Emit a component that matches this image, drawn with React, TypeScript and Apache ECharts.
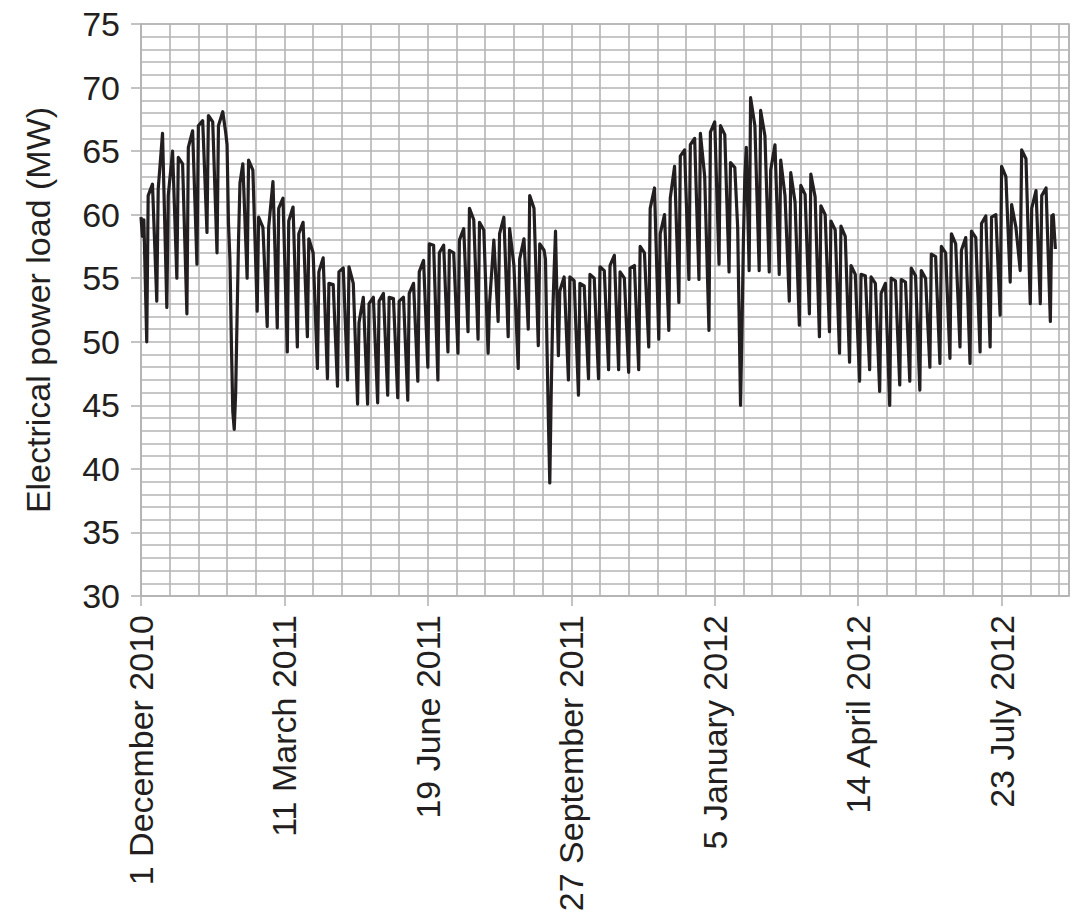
import React, { useEffect, useRef } from "react";
import * as echarts from "echarts";

// X values are days since 1 December 2010; Y values are MW.
const tickLabels = [
  "1 December 2010",
  "11 March 2011",
  "19 June 2011",
  "27 September 2011",
  "5 January 2012",
  "14 April 2012",
  "23 July 2012",
];

// first days of the record (Wed–Fri, 1–3 Dec 2010)
const startPoints: [number, number][] = [
  [0, 59.8],
  [1, 58.3],
  [2, 59.6],
];

// Sunday minimum of each week (week k: day 4 + 7k); null = inside a holiday below
const sundayLow: (number | null)[] = [
  50.0, 53.2, 52.7, 55.0, 52.2, 56.1, 58.6, 57.0, null, null,
  55.0, 52.4, 51.2, 51.1, 49.2, 49.6, 50.4, 47.9, 47.1, 46.5,
  47.0, 45.1, 45.1, 45.2, 45.8, 45.6, 45.4, 46.9, 48.0, 47.0,
  49.2, 49.1, 50.8, 50.2, 49.1, 51.6, 50.4, 47.9, 51.0, 49.7,
  null, 48.9, 47.0, 45.8, 47.1, 47.1, 47.8, 47.8, 47.6, 47.8,
  49.6, 50.2, 50.9, 53.1, 54.9, 54.9, 50.9, 56.1, 55.5, null,
  55.6, 55.6, 55.5, 55.3, 53.2, 51.3, 52.2, 50.4, 50.8, 49.1,
  48.4, 46.9, 47.8, 46.1, 45.0, 46.6, 46.9, 46.2, 48.0, 48.3,
  48.7, 49.6, 48.3, 49.2, 49.6, 52.1, 54.7, 55.6, 53.0, 53.0,
  51.6,
];

// Monday level of each week (day 5 + 7k)
const mondayHigh: (number | null)[] = [
  61.5, 62.0, 61.5, 64.5, 65.3, 67.0, 67.8, 67.0, null, null,
  64.3, 59.8, 59.0, 60.5, 59.5, 58.5, 58.1, 55.5, 54.6, 55.5,
  55.9, 51.5, 53.0, 53.2, 53.5, 53.2, 53.8, 55.5, 57.7, 57.0,
  57.2, 58.0, 60.5, 59.4, 53.0, 58.5, 58.9, 56.5, 61.5, 57.7,
  null, 54.0, 55.1, 54.6, 55.3, 55.9, 56.0, 55.5, 55.8, 57.5,
  60.5, 58.5, 61.3, 64.6, 65.5, 66.4, 66.5, 67.0, 64.1, null,
  69.2, 68.2, 63.5, 64.3, 63.3, 62.3, 63.2, 60.7, 59.5, 59.1,
  56.0, 55.3, 55.1, 53.8, 55.0, 54.9, 55.8, 55.6, 56.9, 57.5,
  58.5, 57.2, 58.7, 59.3, 59.8, 63.8, 60.8, 65.1, 60.5, 61.5,
  59.9,
];

// Thursday level of each week (day 8 + 7k)
const thursdayHigh: (number | null)[] = [
  62.4, 66.4, 65.0, 64.0, 66.6, 67.4, 67.3, 68.1, null, 64.0,
  63.5, 59.0, 62.6, 61.3, 60.6, 59.4, 57.0, 56.6, 54.5, 55.8,
  54.6, 53.5, 53.5, 53.8, 53.4, 53.5, 54.6, 56.4, 57.6, 57.6,
  57.0, 58.9, 59.6, 58.8, 58.0, 59.8, 56.0, 58.1, 60.5, 57.2,
  null, 55.1, 54.8, 54.4, 55.0, 55.6, 56.8, 55.0, 56.0, 57.0,
  62.1, 60.0, 63.8, 65.1, 66.0, 63.0, 67.3, 66.3, 63.7, null,
  67.0, 66.2, 65.5, 61.5, 61.0, 61.6, 61.4, 60.0, 58.8, 58.3,
  55.3, 55.2, 54.6, 54.6, 54.8, 54.7, 55.2, 55.0, 56.7, 57.0,
  57.7, 58.2, 58.2, 59.9, 60.0, 63.0, 59.0, 64.4, 61.9, 62.1,
];

// holiday periods read point by point
const springFestival2011: [number, number][] = [
  [59, 66.5], [60, 65.5], [61, 59.3], [62, 56.5], [63, 50.0], [64, 44.5],
  [65, 43.1], [66, 46.0], [67, 52.0], [68, 58.0], [69, 62.5],
];
const midAutumn2011: [number, number][] = [
  [282, 56.5], [283, 50.0], [284, 44.0], [285, 38.9], [286, 46.0],
  [287, 52.0], [288, 55.5], [289, 58.7], [290, 53.5],
];
const springFestival2012: [number, number][] = [
  [416, 59.0], [417, 52.0], [418, 45.0], [419, 51.0], [420, 58.0],
  [421, 63.0], [422, 65.3],
];

const endPoints: [number, number][] = [
  [636, 60.0],
  [637.5, 57.3],
];

function buildPoints(): [number, number][] {
  const holidays = [springFestival2011, midAutumn2011, springFestival2012];
  const ranges = holidays.map((h) => [h[0][0], h[h.length - 1][0]]);
  const inHoliday = (d: number) => ranges.some(([a, b]) => d >= a && d <= b);
  const pts: [number, number][] = [...startPoints];
  for (let k = 0; k < sundayLow.length; k++) {
    const base = 4 + 7 * k;
    const cands: [number, number | null | undefined][] = [
      [base, sundayLow[k]],
      [base + 1, mondayHigh[k]],
      [base + 4, thursdayHigh[k]],
    ];
    for (const [d, v] of cands) {
      if (v != null && !inHoliday(d)) pts.push([d, v]);
    }
  }
  holidays.forEach((h) => pts.push(...h));
  pts.push(...endPoints);
  pts.sort((a, b) => a[0] - b[0]);
  return pts;
}

const FONT = "'Liberation Sans', Arial, Helvetica, sans-serif";
const TEXT = "#231f20";
const GRID = "#b4b4b4";

export default function App() {
  const ref = useRef<HTMLDivElement>(null);
  useEffect(() => {
    if (!ref.current) return;
    const chart = echarts.init(ref.current, undefined, { renderer: "svg" });
    const lineGray = { color: GRID, width: 1.6 };
    chart.setOption({
      animation: false,
      backgroundColor: "#ffffff",
      grid: {
        left: 141,
        right: 10,
        top: 24,
        bottom: 327,
        show: true,
        borderColor: GRID,
        borderWidth: 1.6,
      },
      xAxis: {
        type: "value",
        min: 0,
        max: 647,
        interval: 100,
        axisLine: { show: true, onZero: false, lineStyle: lineGray },
        axisTick: { show: true, length: 10, lineStyle: lineGray },
        axisLabel: {
          rotate: 90,
          margin: 19,
          fontSize: 34,
          fontFamily: FONT,
          color: TEXT,
          showMaxLabel: false,
          formatter: (v: number) =>
            v % 100 === 0 ? tickLabels[v / 100] ?? "" : "",
        },
        splitLine: { show: true, lineStyle: lineGray },
        minorTick: { show: false, splitNumber: 5 },
        minorSplitLine: { show: true, lineStyle: lineGray },
      },
      yAxis: {
        type: "value",
        min: 30,
        max: 75,
        interval: 5,
        name: "Electrical power load (MW)",
        nameLocation: "middle",
        nameRotate: 90,
        nameGap: 86,
        nameTextStyle: { fontSize: 34, fontFamily: FONT, color: TEXT },
        axisLine: { show: true, lineStyle: lineGray },
        axisTick: { show: true, length: 10, lineStyle: lineGray },
        axisLabel: { margin: 21, fontSize: 34, fontFamily: FONT, color: TEXT },
        splitLine: { show: true, lineStyle: lineGray },
        minorTick: { show: false, splitNumber: 5 },
        minorSplitLine: { show: true, lineStyle: lineGray },
      },
      series: [
        {
          type: "line",
          data: buildPoints(),
          showSymbol: false,
          symbol: "none",
          silent: true,
          lineStyle: { color: TEXT, width: 3.2, join: "round" },
        },
      ],
    });
    return () => chart.dispose();
  }, []);
  return (
    <div
      ref={ref}
      style={{ position: "absolute", left: 0, top: 0, width: 1079, height: 923 }}
    />
  );
}
